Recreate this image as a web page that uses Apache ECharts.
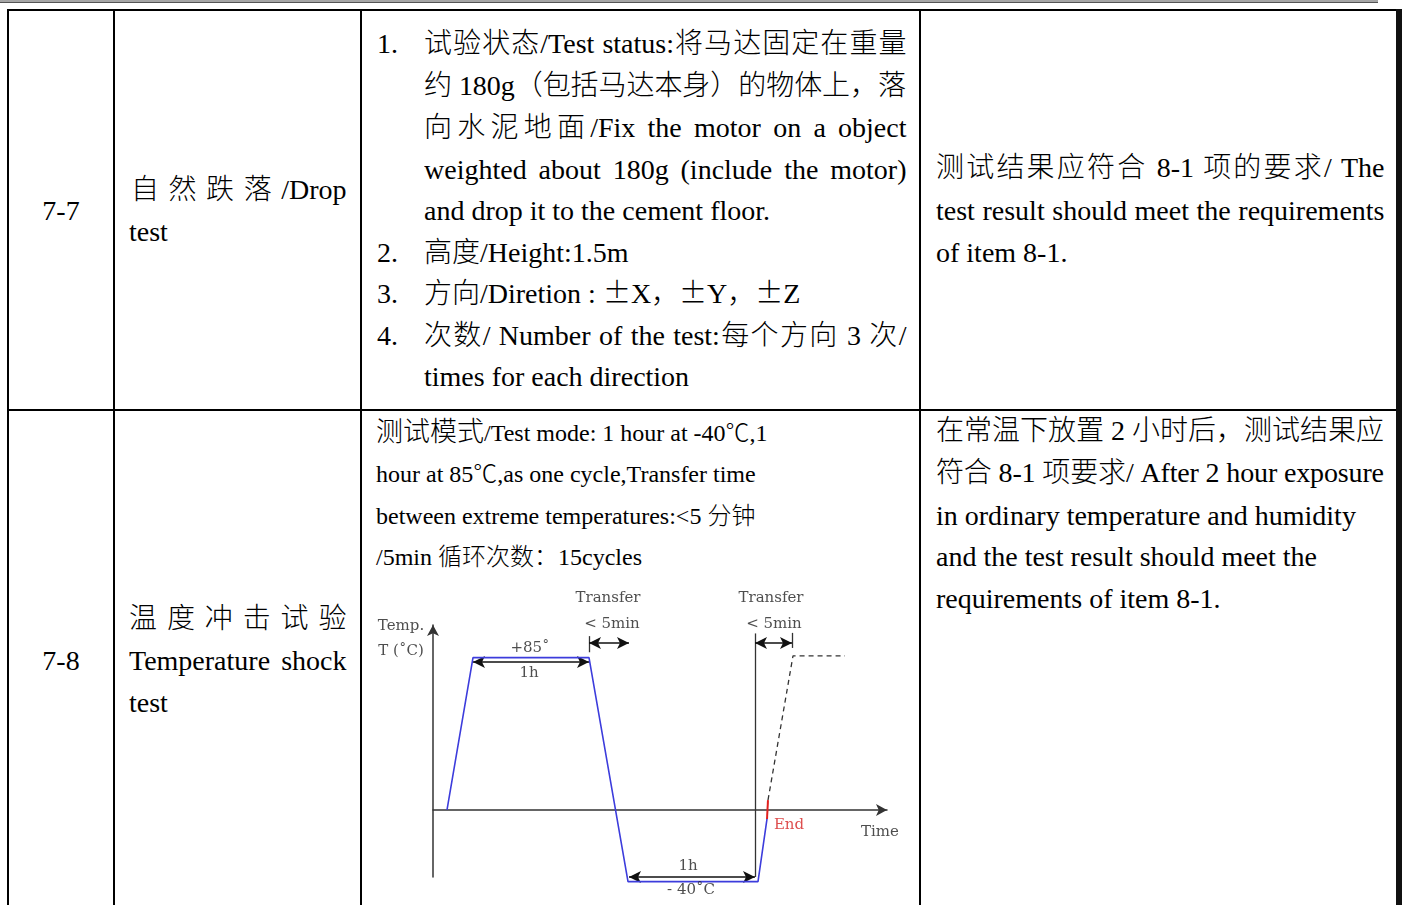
<!DOCTYPE html>
<html><head><meta charset="utf-8">
<script src="https://cdn.jsdelivr.net/npm/echarts@6.0.0/dist/echarts.min.js"></script>
<style>
html,body{margin:0;padding:0;background:#fff;width:1405px;height:905px;overflow:hidden;}
#tbl{position:absolute;left:0;top:0;width:1405px;height:905px;font-family:"Liberation Serif","Noto Sans CJK SC",serif;color:#000;font-weight:300;}
.ln{position:absolute;white-space:nowrap;height:42px;line-height:42px;font-size:28px;}
.s{font-size:24px;}
.fw{display:inline-block;width:28px;text-align:center;font-family:"Noto Sans CJK SC";line-height:1;}
.b{position:absolute;background:#000;}
#chart{position:absolute;left:0;top:0;width:1405px;height:905px;}
</style></head>
<body>
<div id="tbl">
  <div class="b" style="left:0;top:0;width:1378px;height:2px;background:#a6a6a6;"></div>
  <div class="b" style="left:0;top:2px;width:1378px;height:1px;background:#555;"></div>
  <div class="b" style="left:7px;top:9px;width:1391px;height:2px;"></div>
  <div class="b" style="left:7px;top:409px;width:1391px;height:2px;"></div>
  <div class="b" style="left:7px;top:9px;width:2px;height:896px;"></div>
  <div class="b" style="left:113px;top:9px;width:2px;height:896px;"></div>
  <div class="b" style="left:360px;top:9px;width:2px;height:896px;"></div>
  <div class="b" style="left:919px;top:9px;width:2px;height:896px;"></div>
  <div class="b" style="left:1396px;top:9px;width:6px;height:896px;background:#111;"></div>

  <!-- row 7-7 -->
  <div class="ln" style="left:9px;width:104px;text-align:center;top:190px;">7-7</div>
  <div class="ln j" data-w="215" style="left:131px;top:169px;">自 然 跌 落 /Drop</div>
  <div class="ln" style="left:129px;top:211px;">test</div>

  <div class="ln" style="left:377px;top:23px;">1.</div>
  <div class="ln j" data-w="482" style="left:424px;top:23px;">试验状态/Test status:将马达固定在重量</div>
  <div class="ln j" data-w="482" style="left:424px;top:65px;">约 180g（包括马达本身）的物体上，落</div>
  <div class="ln j" data-w="482" style="left:424px;top:107px;">向水泥地面/Fix the motor on a object</div>
  <div class="ln j" data-w="482" style="left:424px;top:149px;">weighted about 180g (include the motor)</div>
  <div class="ln" style="left:424px;top:190px;">and drop it to the cement floor.</div>
  <div class="ln" style="left:377px;top:232px;">2.</div>
  <div class="ln" style="left:424px;top:232px;">高度/Height:1.5m</div>
  <div class="ln" style="left:377px;top:273px;">3.</div>
  <div class="ln" style="left:424px;top:273px;">方向/Diretion : <span class="fw">±</span>X<span class="fw">，</span><span class="fw">±</span>Y<span class="fw">，</span><span class="fw">±</span>Z</div>
  <div class="ln" style="left:377px;top:315px;">4.</div>
  <div class="ln j" data-w="482" style="left:424px;top:315px;">次数/ Number of the test:每个方向 3 次/</div>
  <div class="ln" style="left:424px;top:356px;">times for each direction</div>

  <div class="ln j" data-w="448" style="left:936px;top:147px;">测试结果应符合 8-1 项的要求/ The</div>
  <div class="ln j" data-w="448" style="left:936px;top:190px;">test result should meet the requirements</div>
  <div class="ln" style="left:936px;top:232px;">of item 8-1.</div>

  <!-- row 7-8 -->
  <div class="ln" style="left:9px;width:104px;text-align:center;top:640px;">7-8</div>
  <div class="ln j" data-w="217" style="left:129px;top:598px;">温 度 冲 击 试 验</div>
  <div class="ln j" data-w="217" style="left:129px;top:640px;">Temperature shock</div>
  <div class="ln" style="left:129px;top:682px;">test</div>

  <div class="ln s" style="left:376px;top:411px;"><span style="font-size:27px">测试模式</span>/Test mode: 1 hour at -40℃,1</div>
  <div class="ln s" style="left:376px;top:453px;">hour at 85℃,as one cycle,Transfer time</div>
  <div class="ln s" style="left:376px;top:495px;">between extreme temperatures:&lt;5 分钟</div>
  <div class="ln s" style="left:376px;top:536px;">/5min 循环次数：15cycles</div>

  <div class="ln j" data-w="448" style="left:936px;top:410px;">在常温下放置 2 小时后，测试结果应</div>
  <div class="ln j" data-w="448" style="left:936px;top:452px;">符合 8-1 项要求/ After 2 hour exposure</div>
  <div class="ln" style="left:936px;top:495px;">in ordinary temperature and humidity</div>
  <div class="ln" style="left:936px;top:536px;">and the test result should meet the</div>
  <div class="ln" style="left:936px;top:578px;">requirements of item 8-1.</div>
</div>
<div id="chart"></div>
<script>
// ---- chart data (time in arbitrary units, temperature in °C) ----
const profileTime = [7, 20, 78, 97.5, 162.5, 167];
const profileTemp = [0, 85, 85, -40, -40, -5];
const endTime = [167, 167.5];
const endTemp = [-5, 5.5];
const nextTime = [167.5, 180, 206];
const nextTemp = [5.5, 86, 86];
const guideTime = [78, 98, 161, 179.5];
const guideTop = [97, 98.5, 98.5, 98.8];
const guideBottom = [88, -40, -37.4, 90.4];
const arrowStart = [78, 161, 20, 98];
const arrowEnd = [98, 179.5, 78, 161];
const arrowTemp = [93.2, 93.2, 82.6, -37.4];
const labelTime = [87.5, 89.5, 169, 170.5, 48.5, 48, -16, -16, 178, 223.5, 127.5, 129];
const labelTemp = [118.3, 103.8, 118.3, 103.8, 90.4, 76.5, 102.7, 88.7, -8.4, -12.3, -31.3, -44.6];
const labelText = ['Transfer', '< 5min', 'Transfer', '< 5min', '+85˚', '1h', 'Temp.', 'T (˚C)', 'End', 'Time', '1h', '- 40˚C'];

function justify() {
  document.querySelectorAll('.j').forEach(el => {
    const target = parseFloat(el.dataset.w);
    const nat = el.getBoundingClientRect().width;
    if (nat <= target) {
      el.style.width = (target + 0.5) + 'px';
      el.style.whiteSpace = 'normal';
      el.style.overflow = 'hidden';
      el.style.textAlign = 'justify';
      el.style.textAlignLast = 'justify';
    } else {
      const n = Array.from(el.textContent).length;
      el.style.letterSpacing = ((target - nat) / (n - 1)) + 'px';
    }
  });
}

function draw() {
  justify();
  const chart = echarts.init(document.getElementById('chart'), null, {renderer: 'canvas'});
  const txt = {fontFamily: 'DejaVu Serif', fontSize: 15, color: '#222'};
  chart.setOption({
    animation: false,
    backgroundColor: 'transparent',
    grid: {left: 433, top: 625, width: 454, height: 252},
    xAxis: {type: 'value', min: 0, max: 227,
      axisLine: {onZero: true, symbol: ['none', 'arrow'], symbolSize: [9, 11], lineStyle: {color: '#333', width: 1.5}},
      axisTick: {show: false}, axisLabel: {show: false}, splitLine: {show: false}},
    yAxis: {type: 'value', min: -37.4, max: 103.2,
      axisLine: {onZero: false, symbol: ['none', 'arrow'], symbolSize: [9, 11], lineStyle: {color: '#333', width: 1.5}},
      axisTick: {show: false}, axisLabel: {show: false}, splitLine: {show: false}},
    series: [
      {type: 'line', clip: false, symbol: 'none', z: 5,
        lineStyle: {color: '#3c3cdc', width: 1.6},
        data: profileTime.map((t, i) => [t, profileTemp[i]]),
        markLine: {silent: true, symbol: ['none', 'none'], label: {show: false},
          lineStyle: {color: '#333', width: 1.3, type: 'solid'},
          data: guideTime.map((t, i) => [{coord: [t, guideTop[i]]}, {coord: [t, guideBottom[i]]}])}},
      {type: 'line', clip: false, symbol: 'none', z: 6,
        lineStyle: {color: '#e0201e', width: 2},
        data: endTime.map((t, i) => [t, endTemp[i]])},
      {type: 'line', clip: false, symbol: 'none', z: 4,
        lineStyle: {color: '#333', width: 1.3, type: [5, 4]},
        data: nextTime.map((t, i) => [t, nextTemp[i]]),
        markLine: {silent: true, symbol: ['arrow', 'arrow'], symbolSize: [9, 12], label: {show: false},
          lineStyle: {color: '#111', width: 1.5, type: 'solid'},
          itemStyle: {color: '#111'},
          data: arrowStart.map((t, i) => [{coord: [t, arrowTemp[i]]}, {coord: [arrowEnd[i], arrowTemp[i]]}])}},
      {type: 'scatter', clip: false, symbolSize: 0, z: 10,
        data: labelTime.map((t, i) => ({value: [t, labelTemp[i]], name: labelText[i],
          label: labelText[i] === 'End' ? {color: '#d42020'} : {}})),
        label: Object.assign({show: true, position: 'inside', formatter: p => p.name}, txt)}
    ]
  });
}
if (document.fonts && document.fonts.ready) { document.fonts.ready.then(draw); } else { draw(); }
</script>
</body></html>
